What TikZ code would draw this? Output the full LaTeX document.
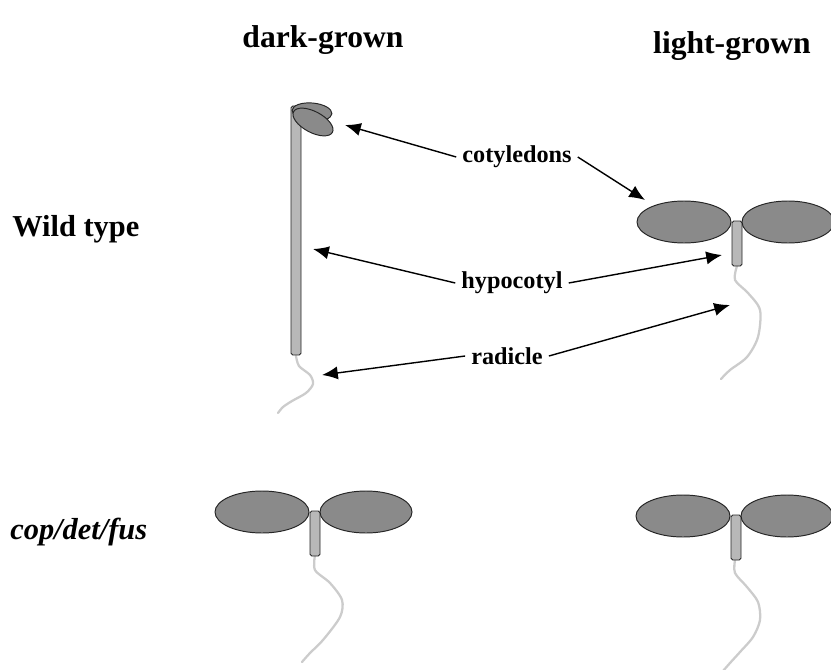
\documentclass[tikz,border=0pt]{standalone}
\usepackage{fontspec}
\setmainfont{Liberation Serif}
\usetikzlibrary{arrows.meta}
\definecolor{leaf}{rgb}{0.54, 0.54, 0.54}
\definecolor{stem}{rgb}{0.72, 0.72, 0.72}
\definecolor{root}{rgb}{0.80, 0.80, 0.80}

\tikzset{
  organ/.style={draw=black!85, line width=0.55pt},
  rootline/.style={draw=root, line width=1.3pt, line cap=round},
  pointer/.style={-{Latex[length=9pt, width=7.5pt]}, line width=0.8pt},
  label/.style={font=\bfseries\fontsize{13.8}{15}\selectfont},
  heading/.style={font=\bfseries\fontsize{18}{20}\selectfont},
  rowname/.style={anchor=west, inner sep=0pt, font=\bfseries\fontsize{17.3}{19}\selectfont}
}

% open seedling: hypocotyl and two spread cotyledons, top of hypocotyl at #1
\newcommand{\openseedling}[1]{
  \begin{scope}[shift={#1}]
    \draw [organ, fill=stem, rounded corners=1pt] (-5, -1) rectangle (5, 44);
    \draw [organ, fill=leaf] (-53, 0) ellipse [x radius=47, y radius=21];
    \draw [organ, fill=leaf] (51, 0) ellipse [x radius=46, y radius=21];
  \end{scope}
}

\begin{document}
\begin{tikzpicture}[x=0.02cm, y=-0.02cm]
\useasboundingbox (0, 0) rectangle (831, 669);

\node [heading] (dark) at (323, 40) {dark-grown};
\node [heading] (light) at (732, 46) {light-grown};
\node [rowname] (wt) at (12, 229) {Wild type};
\node [rowname] (mut) at (10, 532) {\itshape cop/det/fus};

% etiolated seedling
\draw [rootline] plot [smooth] coordinates {(296, 356) (299, 366) (310, 375) (313, 384) (306, 393) (292, 401) (283, 407) (278, 413)};
\draw [organ, fill=stem, rounded corners=1pt] (291, 106) rectangle (301, 355);
\draw [organ, fill=leaf, rotate around={-5:(312, 112)}] (312, 112) ellipse [x radius=20, y radius=9];
\draw [organ, fill=leaf, rotate around={-28:(313, 122)}] (313, 122) ellipse [x radius=22, y radius=10.5];

% de-etiolated seedlings
\draw [rootline] plot [smooth] coordinates {(737, 266) (735, 280) (748, 293) (760, 310) (758, 337) (747, 357) (730, 370) (721, 379)};
\openseedling{(737, 222)}

\draw [rootline] plot [smooth] coordinates {(315, 555) (315, 570) (330, 583) (342, 600) (340, 617) (323, 640) (310, 653) (302, 662)};
\openseedling{(315, 512)}

\draw [rootline] plot [smooth] coordinates {(735, 560) (735, 573) (747, 587) (758, 602) (760, 620) (753, 637) (740, 652) (730, 663) (723, 671)};
\openseedling{(736, 516)}

% arrow targets
\coordinate (dcot) at (345, 125);
\coordinate (lcot) at (645, 200);
\coordinate (dhyp) at (313, 249);
\coordinate (lhyp) at (722, 255);
\coordinate (drad) at (322, 375);
\coordinate (lrad) at (730, 305);

\node [label] (cot) at (517, 157) {cotyledons};
\node [label] (hyp) at (512, 283) {hypocotyl};
\node [label] (rad) at (507, 356) {radicle};

\draw [pointer] (cot.west) -- (dcot);
\draw [pointer] (cot.east) -- (lcot);
\draw [pointer] (hyp.west) -- (dhyp);
\draw [pointer] (hyp.east) -- (lhyp);
\draw [pointer] (rad.west) -- (drad);
\draw [pointer] (rad.east) -- (lrad);
\end{tikzpicture}
\end{document}
